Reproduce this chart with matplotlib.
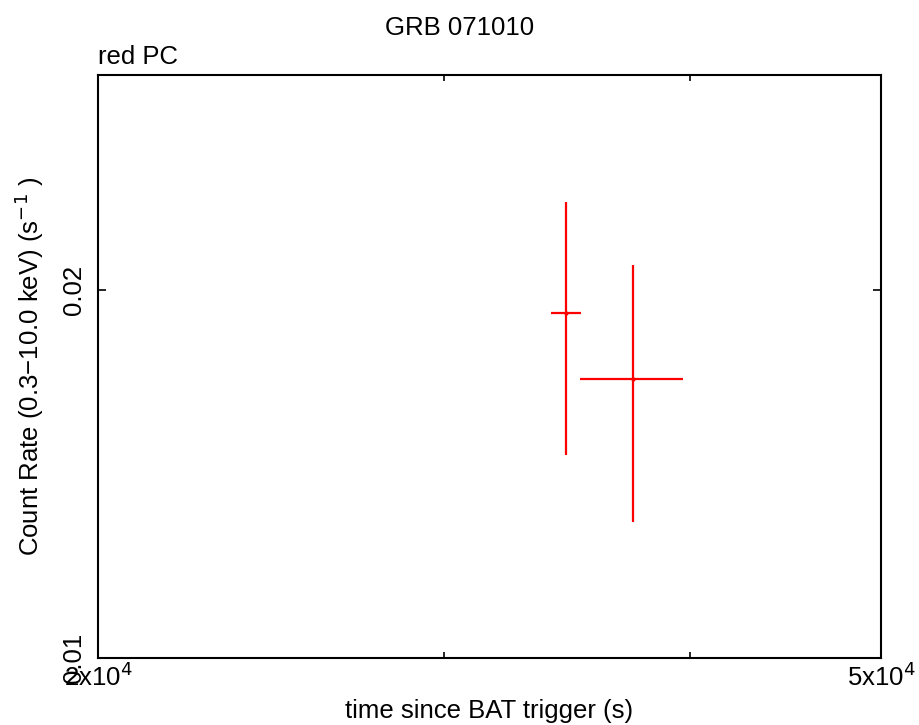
import matplotlib
matplotlib.use("Agg")
import matplotlib.pyplot as plt
from matplotlib.ticker import FixedLocator, NullFormatter, NullLocator

plt.rcParams['font.family'] = ['Liberation Sans', 'DejaVu Sans']

# data
t = [34580, 37390]
t_lo = [33980, 35140]
t_hi = [35200, 39650]
rate = [0.01915, 0.01693]
rate_lo = [0.01466, 0.01291]
rate_hi = [0.02362, 0.02096]

xticks = [2e4, 5e4]
xtick_labels = [r'2x10$^4$', r'5x10$^4$']
xminor = [3e4, 4e4]
yticks = [0.01, 0.02]
ytick_labels = ['0.01', '0.02']

FS = 18.5

fig = plt.figure(figsize=(9.19, 7.25), dpi=100)
ax = fig.add_axes([98/919, 67/725, 783/919, 583/725])

xerr = [[a - b for a, b in zip(t, t_lo)], [b - a for a, b in zip(t, t_hi)]]
yerr = [[a - b for a, b in zip(rate, rate_lo)], [b - a for a, b in zip(rate, rate_hi)]]
ax.errorbar(t, rate, xerr=xerr, yerr=yerr, fmt='o', ms=2, color='#ff0000',
            ecolor='#ff0000', elinewidth=1.6, capsize=0)

ax.set_xscale('log')
ax.set_yscale('log')
ax.set_xlim(2e4, 5e4)
ax.set_ylim(0.01, 0.03)

ax.xaxis.set_major_locator(FixedLocator(xticks))
ax.set_xticklabels(xtick_labels)
ax.xaxis.set_minor_locator(FixedLocator(xminor))
ax.xaxis.set_minor_formatter(NullFormatter())
ax.yaxis.set_major_locator(FixedLocator(yticks))
ax.set_yticklabels(ytick_labels, rotation=90, va='center')
ax.yaxis.set_minor_locator(NullLocator())

ax.tick_params(which='both', direction='in', top=True, right=True, labelsize=FS, width=1.2)
ax.tick_params(which='major', length=6)
ax.tick_params(which='minor', length=4)
ax.tick_params(axis='x', pad=3)
ax.tick_params(axis='y', pad=9)
for s in ax.spines.values():
    s.set_linewidth(1.5)

ax.set_xlabel('time since BAT trigger (s)', fontsize=FS, labelpad=6)
ax.set_ylabel('Count Rate (0.3\u221210.0 keV) (s$^{-1}$ )', fontsize=FS, labelpad=11)
fig.text(0.5, 1 - 28/725, 'GRB 071010', ha='center', va='center', fontsize=FS)
ax.text(0.0, 1.019, 'red PC', transform=ax.transAxes, ha='left', va='baseline', fontsize=FS)

fig.savefig('out.png', dpi=100)
